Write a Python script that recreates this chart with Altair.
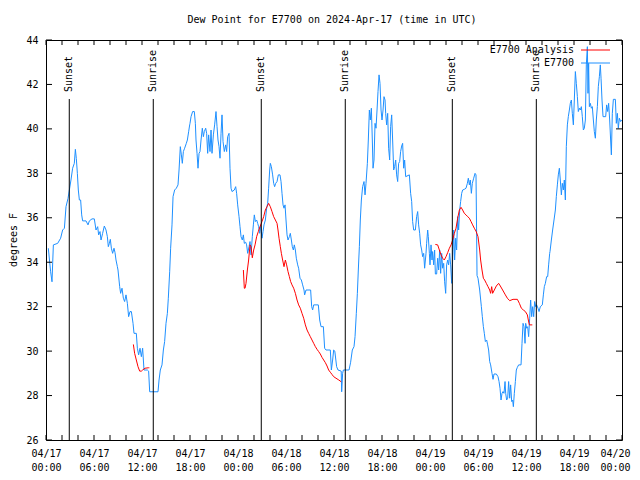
import altair as alt
import pandas as pd

FONT = "DejaVu Sans Mono"
BLUE = "#1e90ff"
RED = "#ff0000"

# Observed dew point (hours after 2024-04-17 00:00 UTC, degrees F)
obs_part1 = [(0.29, 34.63), (0.58, 33.57), (0.75, 33.12), (0.92, 34.78), (1.46, 34.85), (1.83, 35.08),
             (2.08, 35.45), (2.3, 35.53), (2.5, 36.5), (2.75, 36.87), (2.92, 37.25), (3.12, 37.7),
             (3.33, 38.23), (3.54, 38.45), (3.67, 39.08), (3.79, 38.67), (3.92, 38.0), (4.04, 37.25),
             (4.17, 36.8), (4.33, 36.8), (4.46, 36.13), (4.58, 35.86), (5.0, 35.86), (5.25, 35.68),
             (5.42, 35.86), (5.75, 35.95), (6.04, 35.95), (6.25, 35.45), (6.46, 35.6), (6.58, 35.23),
             (6.75, 35.38), (6.88, 35.0), (7.08, 35.3), (7.29, 35.63), (7.5, 35.45), (7.67, 35.15),
             (7.79, 34.7), (7.92, 34.85), (8.04, 35.03), (8.17, 34.63), (8.33, 34.4), (8.5, 34.63),
             (8.63, 34.43), (8.75, 34.1), (8.92, 33.8)]
obs_part2 = [(9.0, 33.65), (9.21, 32.9), (9.33, 32.6), (9.5, 32.83), (9.67, 32.38), (9.83, 32.23),
             (10.0, 32.53), (10.17, 32.15), (10.33, 31.55), (10.5, 31.78), (10.67, 31.78), (10.88, 31.25),
             (11.0, 30.8), (11.29, 30.8), (11.42, 30.13), (11.58, 29.83), (11.75, 30.13), (11.92, 29.75),
             (12.08, 30.13), (12.25, 29.15), (12.67, 29.15), (12.83, 29.1), (12.96, 28.17), (14.0, 28.17),
             (14.13, 28.7), (14.29, 29.15), (14.5, 29.38), (14.67, 30.05), (14.83, 30.43), (15.0, 31.25),
             (15.17, 31.7), (15.29, 32.38), (15.46, 33.57), (15.58, 34.63), (15.75, 35.68), (15.88, 36.95),
             (16.08, 37.25), (16.29, 37.33), (16.5, 37.48), (16.63, 38.15), (16.79, 39.2), (16.92, 38.83),
             (17.04, 38.45), (17.17, 38.98), (17.33, 39.13), (17.54, 39.35), (17.67, 39.5), (17.83, 39.87),
             (17.96, 40.18)]
obs_part3 = [(18.0, 40.25), (18.13, 40.55), (18.33, 40.78), (18.54, 40.78), (18.67, 40.25), (18.75, 39.5),
             (18.88, 38.9), (19.0, 38.23), (19.13, 38.9), (19.25, 38.98), (19.38, 39.5), (19.54, 40.03),
             (19.67, 39.65), (19.79, 39.88), (19.96, 40.03), (20.08, 39.8), (20.21, 38.9), (20.33, 39.73),
             (20.5, 38.98), (20.63, 39.95), (20.75, 38.9), (20.92, 39.73), (21.08, 40.18), (21.25, 40.78),
             (21.38, 40.1), (21.5, 39.5), (21.63, 39.2), (21.75, 38.68), (21.88, 39.8), (22.0, 40.63),
             (22.13, 39.43), (22.29, 38.98), (22.46, 39.28), (22.58, 38.98), (22.71, 39.65), (22.88, 39.8),
             (23.0, 38.23), (23.13, 37.33), (23.25, 37.18), (23.54, 37.25), (23.71, 37.4), (23.83, 37.1),
             (23.96, 36.58), (24.13, 36.05), (24.25, 35.6), (24.38, 35.15), (24.54, 35.0), (24.67, 35.23),
             (24.79, 34.85), (24.96, 34.9), (25.08, 34.78), (25.21, 34.4), (25.38, 34.7), (25.5, 34.93),
             (25.63, 34.33), (25.79, 35.15), (25.92, 35.68), (26.04, 36.13), (26.17, 35.83), (26.33, 35.9),
             (26.46, 35.75), (26.58, 35.6), (26.71, 35.3), (26.83, 35.68)]
obs_part4 = [(27.0, 35.08), (27.13, 35.38), (27.25, 35.68), (27.42, 35.9), (27.58, 36.43), (27.71, 36.65),
             (27.83, 37.33), (27.96, 38.15), (28.04, 38.45), (28.17, 38.3), (28.33, 37.93), (28.46, 37.55),
             (28.58, 37.4), (28.71, 37.55), (28.88, 37.63), (29.04, 37.93), (29.25, 37.93), (29.38, 37.63),
             (29.5, 37.1), (29.63, 36.58), (29.75, 36.43), (29.88, 36.58), (30.0, 35.9), (30.13, 35.23),
             (30.25, 35.0), (30.42, 35.15), (30.54, 35.3), (30.67, 35.0), (30.79, 34.7), (30.92, 34.55),
             (31.04, 34.78), (31.17, 34.55), (31.29, 34.18), (31.46, 33.88), (31.58, 33.73), (31.75, 33.28),
             (31.92, 33.2), (32.08, 32.98), (32.25, 32.75), (32.33, 32.53), (32.5, 32.75), (33.08, 32.75),
             (33.21, 32.0), (33.33, 31.85), (33.46, 32.08), (34.04, 32.08), (34.21, 31.4), (34.38, 31.1),
             (34.67, 31.1), (34.83, 30.13), (35.0, 30.05), (35.54, 30.05), (35.67, 29.15), (35.83, 29.6),
             (35.96, 30.05), (36.1, 30.0), (36.33, 29.3), (36.5, 29.15), (36.9, 29.1), (36.96, 28.17),
             (37.08, 29.0), (37.17, 29.15), (37.79, 29.15)]
obs_part5 = [(37.88, 29.15), (38.08, 29.5), (38.29, 30.05), (38.5, 30.2), (38.63, 30.65), (38.79, 31.7),
             (38.92, 32.6), (39.04, 33.65), (39.17, 34.7), (39.29, 35.9), (39.42, 36.8), (39.58, 37.4),
             (39.75, 37.63), (39.88, 37.03), (40.0, 37.55), (40.17, 38.45), (40.29, 39.5), (40.42, 40.85),
             (40.54, 40.4), (40.67, 40.93), (40.79, 39.5), (40.88, 38.23), (41.0, 38.6), (41.13, 40.25),
             (41.25, 40.03), (41.38, 40.85), (41.5, 41.68), (41.63, 42.43), (41.75, 42.05), (41.88, 40.85),
             (42.0, 40.4), (42.13, 40.85), (42.25, 41.45), (42.38, 41.3), (42.46, 40.7), (42.58, 40.18),
             (42.71, 40.7), (42.83, 39.13), (42.96, 38.6), (43.08, 40.1), (43.21, 40.63), (43.33, 39.5),
             (43.46, 38.15), (43.58, 38.3), (43.71, 38.6), (43.83, 37.93), (43.96, 37.63), (44.08, 38.45),
             (44.21, 38.53), (44.33, 38.98), (44.46, 39.23), (44.58, 39.35), (44.71, 38.23), (44.83, 38.6),
             (44.96, 37.85)]
obs_part6 = [(45.42, 37.93), (45.58, 37.1), (45.71, 36.73), (45.83, 35.83), (45.96, 35.45), (46.17, 35.45),
             (46.33, 36.05), (46.46, 36.28), (46.58, 35.68), (46.71, 35.3), (46.83, 34.78), (46.96, 34.55),
             (47.08, 34.25), (47.21, 34.4), (47.33, 33.73), (47.5, 34.4), (47.58, 34.85), (47.71, 35.45),
             (47.79, 35.15), (47.92, 34.4), (48.0, 33.88), (48.13, 34.78), (48.25, 34.1), (48.33, 34.48),
             (48.46, 33.88), (48.58, 34.55), (48.67, 33.47), (48.83, 33.47), (48.96, 34.18), (49.08, 33.65),
             (49.21, 34.55), (49.33, 33.5), (49.46, 34.4), (49.58, 33.73), (49.71, 33.95), (49.83, 33.12),
             (49.96, 32.6), (50.08, 33.88), (50.21, 34.1), (50.33, 33.88), (50.46, 34.4), (50.58, 33.88),
             (50.71, 33.05), (50.83, 34.1), (50.96, 35.45), (51.08, 34.1), (51.21, 35.08), (51.33, 34.55),
             (51.46, 36.05), (51.58, 35.45), (51.71, 36.35), (51.83, 36.73), (51.96, 37.1), (52.08, 37.25),
             (52.29, 37.28), (52.5, 37.33), (52.67, 37.55), (52.79, 37.78), (52.92, 37.48), (53.04, 37.7),
             (53.17, 37.1), (53.29, 37.55), (53.46, 37.78), (53.63, 38.0), (53.75, 37.93), (53.88, 33.4)]
obs_part7 = [(54.0, 33.28), (54.21, 32.75), (54.42, 32.0), (54.54, 31.55), (54.67, 31.1), (54.79, 30.8),
             (54.92, 30.43), (55.08, 30.5), (55.21, 30.28), (55.33, 30.05), (55.46, 29.53), (55.58, 29.38),
             (55.75, 29.0), (55.88, 28.73), (56.0, 28.97), (56.29, 28.97), (56.5, 28.85), (56.63, 28.63),
             (56.75, 28.33), (56.88, 27.8), (57.0, 28.1), (57.13, 28.18), (57.25, 28.1), (57.38, 28.63),
             (57.46, 28.1), (57.58, 27.8), (57.71, 27.88), (57.83, 28.63), (57.96, 27.88), (58.08, 28.48),
             (58.21, 27.73), (58.33, 27.8), (58.42, 27.5), (58.54, 28.1), (58.67, 28.63), (58.79, 29.15),
             (58.92, 29.27), (59.08, 29.38), (59.38, 29.38), (59.5, 30.35), (59.63, 31.25), (59.75, 31.1),
             (59.88, 30.35), (59.96, 31.25), (60.08, 31.03), (60.21, 31.1), (60.33, 30.65), (60.46, 31.48),
             (60.58, 32.3), (60.71, 31.55), (60.83, 32.0), (60.96, 31.55), (61.08, 32.23), (61.21, 32.0),
             (61.33, 32.08), (61.5, 31.93), (61.63, 31.78), (61.79, 32.0), (62.04, 32.08), (62.17, 32.53),
             (62.29, 32.9), (62.42, 33.05), (62.58, 33.35), (62.71, 33.35), (62.83, 33.88), (62.96, 34.4)]
obs_part8 = [(63.0, 34.48), (63.17, 35.0), (63.33, 35.45), (63.5, 35.9), (63.67, 36.35), (63.79, 36.95),
             (63.92, 37.48), (64.04, 37.93), (64.17, 38.23), (64.29, 37.7), (64.42, 37.03), (64.54, 37.55),
             (64.67, 37.25), (64.79, 37.7), (64.92, 36.8), (65.04, 39.2), (65.17, 40.18), (65.29, 40.55),
             (65.42, 40.85), (65.54, 41.15), (65.67, 41.3), (65.79, 40.7), (65.92, 40.18), (66.04, 41.3),
             (66.17, 42.58), (66.29, 42.05), (66.42, 41.45), (66.54, 40.78), (66.67, 40.93), (66.79, 40.85),
             (66.92, 41.0), (67.04, 40.55), (67.17, 39.95), (67.29, 40.03), (67.42, 40.4), (67.54, 42.88),
             (67.67, 43.7), (67.75, 41.6), (67.83, 42.95), (67.92, 41.0), (68.04, 41.15), (68.17, 40.93),
             (68.29, 41.0), (68.42, 40.4), (68.54, 39.88), (68.67, 39.58), (68.79, 40.4), (68.92, 41.0),
             (69.04, 41.9), (69.17, 42.35), (69.29, 42.88), (69.38, 42.28), (69.5, 41.3), (69.63, 40.55),
             (69.96, 40.55), (70.08, 41.08), (70.21, 40.78), (70.33, 41.15), (70.46, 40.4), (70.58, 39.5),
             (70.67, 38.83), (70.79, 40.7), (70.92, 41.33), (71.17, 41.33), (71.29, 40.25), (71.42, 40.7),
             (71.54, 40.03), (71.67, 40.48), (71.83, 40.33), (71.96, 40.4)]

# Analysis dew point, three separate runs
analysis_run1 = [(10.92, 30.3), (11.08, 29.9), (11.29, 29.6), (11.5, 29.3), (11.71, 29.1), (11.92, 29.1),
                 (12.08, 29.15), (12.38, 29.23), (12.79, 29.25), (12.92, 29.25)]
analysis_run2 = [(24.67, 33.65), (24.79, 32.83), (24.88, 32.83), (25.0, 33.05), (25.17, 33.65), (25.33, 34.1),
                 (25.5, 34.78), (25.63, 34.7), (25.79, 34.2), (25.96, 34.55), (26.13, 34.78), (26.33, 35.15),
                 (26.54, 35.38), (26.75, 35.6), (27.0, 35.83), (27.21, 36.05), (27.42, 36.35), (27.63, 36.5),
                 (27.83, 36.65), (28.04, 36.5), (28.25, 36.28), (28.46, 36.05), (28.67, 35.9), (28.88, 35.75),
                 (29.0, 35.45), (29.13, 35.08), (29.29, 34.7), (29.42, 34.4), (29.58, 34.1), (29.75, 33.8),
                 (29.92, 34.1), (30.08, 33.88), (30.25, 33.58), (30.42, 33.35), (30.58, 33.13), (30.75, 32.98),
                 (30.96, 32.83), (31.17, 32.6), (31.38, 32.3), (31.58, 32.08), (31.79, 31.93), (32.0, 31.7),
                 (32.21, 31.48), (32.42, 31.18), (32.63, 30.95), (32.83, 30.8), (33.04, 30.65), (33.25, 30.5),
                 (33.46, 30.35), (33.67, 30.2), (33.88, 30.08), (34.08, 29.98), (34.29, 29.87), (34.5, 29.72),
                 (34.71, 29.6), (34.92, 29.48), (35.13, 29.33), (35.33, 29.15), (35.54, 29.05), (35.75, 28.95),
                 (35.96, 28.85), (36.25, 28.78), (36.6, 28.7), (36.9, 28.62)]
analysis_run3 = [(48.67, 34.8), (48.96, 34.78), (49.17, 34.55), (49.38, 34.33), (49.58, 34.18), (49.79, 34.1),
                 (50.0, 34.25), (50.21, 34.43), (50.42, 34.63), (50.63, 34.78), (50.83, 35.0), (51.04, 35.3),
                 (51.25, 35.53), (51.46, 35.98), (51.67, 36.35), (51.88, 36.47), (52.08, 36.35), (52.29, 36.2),
                 (52.5, 36.13), (52.71, 36.05), (52.92, 35.98), (53.13, 35.83), (53.33, 35.68), (53.54, 35.53),
                 (53.75, 35.4), (54.0, 35.15), (54.21, 34.55), (54.33, 34.1), (54.5, 33.65), (54.67, 33.28),
                 (54.83, 33.2), (55.04, 33.05), (55.25, 32.9), (55.46, 32.75), (55.58, 32.6), (55.71, 32.9),
                 (55.83, 32.6), (56.04, 32.75), (56.29, 32.93), (56.58, 33.05), (56.79, 32.93), (57.08, 32.75),
                 (57.42, 32.53), (57.67, 32.38), (57.96, 32.27), (58.38, 32.33), (58.92, 32.33), (59.17, 32.15),
                 (59.42, 31.93), (59.67, 31.85), (59.92, 31.78), (60.17, 31.63), (60.29, 31.4), (60.42, 31.18),
                 (60.79, 31.18)]

sun_hours = [2.91, 13.41, 26.91, 37.41, 50.79, 61.29]
sun_labels = ["Sunset", "Sunrise", "Sunset", "Sunrise", "Sunset", "Sunrise"]

x_label_hours = [0, 6, 12, 18, 24, 30, 36, 42, 48, 54, 60, 66, 72]
x_tick_hours = [0, 2, 4, 6, 8, 10, 12, 14, 16, 18, 20, 22, 24, 26, 28, 30, 32, 34, 36,
                38, 40, 42, 44, 46, 48, 50, 52, 54, 56, 58, 60, 62, 64, 66, 68, 70, 72]
y_tick_values = [26, 28, 30, 32, 34, 36, 38, 40, 42, 44]

legend_labels = ["E7700 Analysis", "E7700"]
title_text = "Dew Point for E7700 on 2024-Apr-17 (time in UTC)"
y_title_text = "degrees F"

# ---- tables
obs_points = obs_part1 + obs_part2 + obs_part3 + obs_part4 + obs_part5 + obs_part6 + obs_part7 + obs_part8
obs = pd.DataFrame(obs_points, columns=["hour", "dew"])
ana_frames = []
for i, run in enumerate([analysis_run1, analysis_run2, analysis_run3]):
    f = pd.DataFrame(run, columns=["hour", "dew"])
    f["run"] = i
    ana_frames.append(f)
ana = pd.concat(ana_frames, ignore_index=True)
sun = pd.DataFrame({"hour": sun_hours, "label": sun_labels})
xt = pd.DataFrame({"hour": x_tick_hours})
yt = pd.DataFrame({"dew": y_tick_values})
one = pd.DataFrame({"k": [0]})

W, H = 576, 400
x_scale = alt.Scale(domain=[0, 72], nice=False, zero=False)
y_scale = alt.Scale(domain=[26, 44], nice=False, zero=False)
x_axis = alt.Axis(
    values=x_label_hours,
    labelExpr="['04/' + format(17 + floor(datum.value / 24), '02d'), format(datum.value % 24, '02d') + ':00']",
    labelPadding=8, labelLineHeight=14, labelFlush=False, labelOverlap=False,
    labelOffset={"condition": {"test": "datum.value == 72", "value": -7}, "value": 0},
    labelBaseline="top", title=None, ticks=False, tickSize=0, domain=False, grid=False,
)
y_axis = alt.Axis(values=y_tick_values, labelPadding=8, title=None, ticks=False, tickSize=0,
                  domain=False, grid=False, labelOverlap=False)

X = alt.X("hour:Q", scale=x_scale, axis=x_axis)
Y = alt.Y("dew:Q", scale=y_scale, axis=y_axis)

obs_line = alt.Chart(obs).mark_line(color=BLUE, strokeWidth=1).encode(x=X, y=Y)
ana_line = alt.Chart(ana).mark_line(color=RED, strokeWidth=1).encode(x=X, y=Y, detail="run:N")

sun_rules = alt.Chart(sun).mark_rule(color="black", strokeWidth=1).encode(
    x=X, y=alt.value(59), y2=alt.value(H))
sun_text = alt.Chart(sun).mark_text(angle=270, align="left", baseline="middle", font=FONT,
                                    fontSize=10, color="black").encode(
    x=X, y=alt.value(52), text="label:N")

tick_left = alt.Chart(yt).mark_rule(color="black", strokeWidth=1).encode(
    y=Y, x=alt.value(0), x2=alt.value(6))
tick_right = alt.Chart(yt).mark_rule(color="black", strokeWidth=1).encode(
    y=Y, x=alt.value(W - 6), x2=alt.value(W))
tick_bottom = alt.Chart(xt).mark_rule(color="black", strokeWidth=1).encode(
    x=X, y=alt.value(H - 5), y2=alt.value(H))
tick_top = alt.Chart(xt).mark_rule(color="black", strokeWidth=1).encode(
    x=X, y=alt.value(0), y2=alt.value(5))

leg_text1 = alt.Chart(one).mark_text(text=legend_labels[0], align="right", baseline="middle",
                                      font=FONT, fontSize=10, color="black").encode(
    x=alt.value(528), y=alt.value(10))
leg_text2 = alt.Chart(one).mark_text(text=legend_labels[1], align="right", baseline="middle",
                                      font=FONT, fontSize=10, color="black").encode(
    x=alt.value(528), y=alt.value(23))
leg_line1 = alt.Chart(one).mark_rule(color=RED, strokeWidth=1).encode(
    x=alt.value(535), x2=alt.value(564), y=alt.value(10))
leg_line2 = alt.Chart(one).mark_rule(color=BLUE, strokeWidth=1).encode(
    x=alt.value(535), x2=alt.value(564), y=alt.value(23))

title_mark = alt.Chart(one).mark_text(text=title_text, align="center", baseline="middle",
                                      font=FONT, fontSize=10, color="black").encode(
    x=alt.value(286), y=alt.value(-20))
ytitle_mark = alt.Chart(one).mark_text(text=y_title_text, angle=270, align="center", baseline="middle",
                                       font=FONT, fontSize=10, color="black").encode(
    x=alt.value(-32), y=alt.value(200))

chart = alt.layer(
    obs_line, ana_line, sun_rules, sun_text,
    tick_left, tick_right, tick_bottom, tick_top,
    leg_text1, leg_text2, leg_line1, leg_line2,
    title_mark, ytitle_mark,
).properties(
    width=W, height=H,
    autosize=alt.AutoSizeParams(type="none"),
    padding={"left": 38, "top": 32, "right": 10, "bottom": 32},
    background="white",
).configure_view(
    stroke="black", strokeWidth=1
).configure_axis(
    labelFont=FONT, labelFontSize=10, labelColor="black"
)

chart.save("out.html", embed_options={"renderer": "svg", "actions": False})
